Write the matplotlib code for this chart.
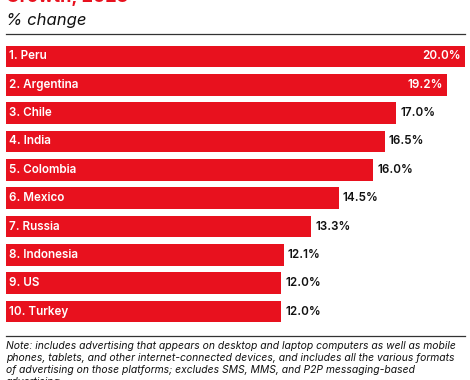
import matplotlib.pyplot as plt

countries = ['Peru', 'Argentina', 'Chile', 'India', 'Colombia',
             'Mexico', 'Russia', 'Indonesia', 'US', 'Turkey']
growth = [20.0, 19.2, 17.0, 16.5, 16.0, 14.5, 13.3, 12.1, 12.0, 12.0]

title = 'Growth, 2023'
subtitle = '% change'
note_lines = [
    'Note: includes advertising that appears on desktop and laptop computers as well as mobile',
    'phones, tablets, and other internet-connected devices, and includes all the various formats',
    'of advertising on those platforms; excludes SMS, MMS, and P2P messaging-based',
    'advertising',
]

RED = '#E8111E'
W, H = 470, 380
plt.rcParams['font.family'] = ['Inter', 'DejaVu Sans']

fig = plt.figure(figsize=(W / 100, H / 100), dpi=100)

def fx(px):
    return px / W

def fy(py):
    return 1 - py / H

# bar area
ax = fig.add_axes([fx(6), fy(325.7), fx(465) - fx(6), fy(42.3) - fy(325.7)])
ypos = list(range(len(countries)))
ax.barh(ypos, growth, height=0.76, color=RED, edgecolor='none')
ax.set_xlim(0, 20)
ax.set_ylim(len(countries) - 0.5, -0.5)
ax.axis('off')

for i, (c, v) in enumerate(zip(countries, growth)):
    ax.text(0.12, i, f'{i + 1}. {c}', color='white', fontsize=8.4,
            fontweight='semibold', va='center', ha='left')
    lab = f'{v:.1f}%'
    if v >= 19:
        ax.text(v - 0.18, i, lab, color='white', fontsize=8.4,
                fontweight='semibold', va='center', ha='right')
    else:
        ax.text(v + 0.18, i, lab, color='#111111', fontsize=8.4,
                fontweight='semibold', va='center', ha='left')

# header
fig.text(fx(6), fy(2), title, color=RED, fontsize=13, fontweight='bold',
         ha='left', va='baseline')
fig.text(fx(6), fy(25), subtitle, color='#111111', fontsize=12,
         style='italic', ha='left', va='baseline')
fig.add_artist(plt.Line2D([fx(6), fx(465)], [fy(34), fy(34)],
                          color='#333333', lw=0.9))

# footer
fig.add_artist(plt.Line2D([fx(6), fx(465)], [fy(336), fy(336)],
                          color='#333333', lw=0.9))
for k, line in enumerate(note_lines):
    fig.text(fx(6), fy(349 + 12 * k), line, color='#111111', fontsize=7.45,
             style='italic', ha='left', va='baseline')

fig.savefig('out.png', dpi=100)
